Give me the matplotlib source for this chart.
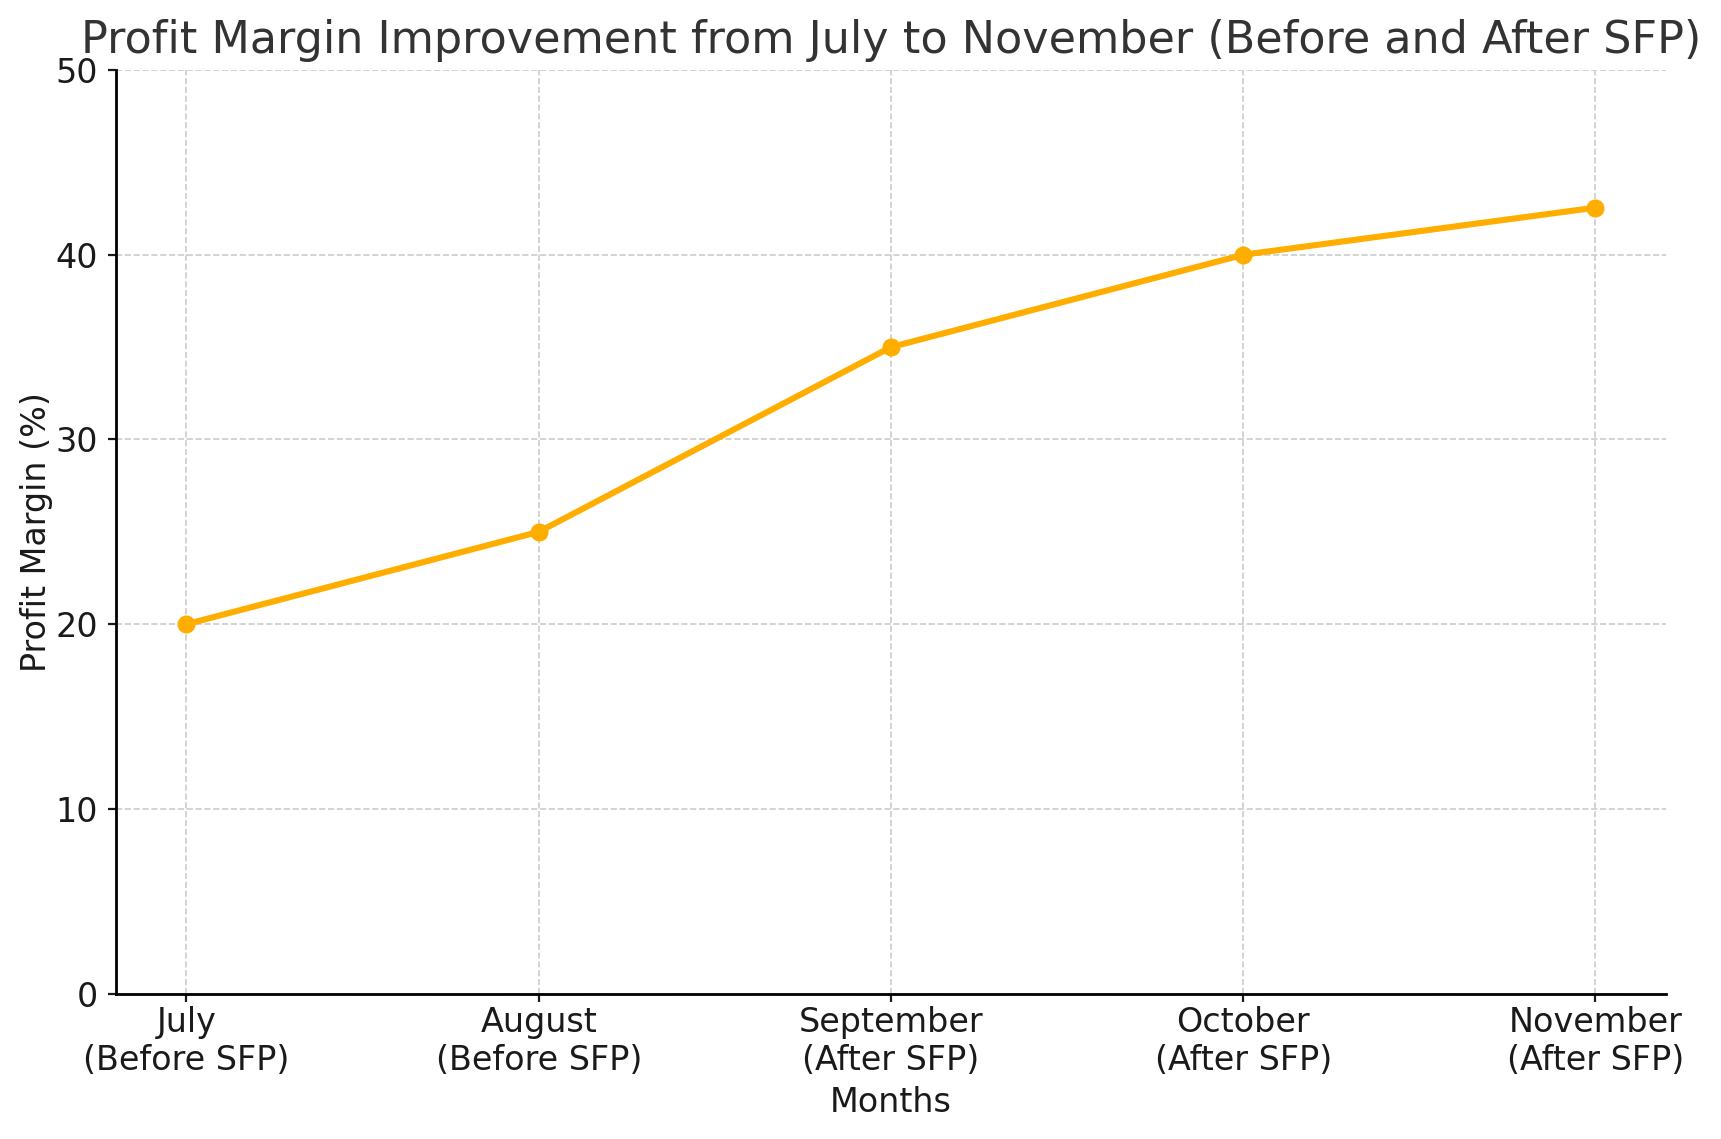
import matplotlib
matplotlib.use("Agg")
import matplotlib.pyplot as plt

# Data
months = ["July\n(Before SFP)", "August\n(Before SFP)", "September\n(After SFP)",
          "October\n(After SFP)", "November\n(After SFP)"]
profit_margin = [20, 25, 35, 40, 42.55]

fig = plt.figure(figsize=(8.605, 5.695), dpi=200)
ax = fig.add_axes([0.0674, 0.1276, 0.9006, 0.8109])

ax.plot(months, profit_margin, color="#FFAE00", linewidth=2.2, marker="o", markersize=5.5)

ax.set_title("Profit Margin Improvement from July to November (Before and After SFP)",
             fontsize=16, color="#333333", pad=6)
ax.set_ylim(0, 50)
ax.set_yticks([0, 10, 20, 30, 40, 50])
ax.tick_params(labelsize=12, colors="#1a1a1a", length=3)
ax.tick_params(axis="x", pad=1.5)
ax.set_xlabel("Months", fontsize=12, color="#1a1a1a", labelpad=3)
ax.set_ylabel("Profit Margin (%)", fontsize=12, color="#1a1a1a", labelpad=1)

ax.grid(True, linestyle="--", color="#cccccc", linewidth=0.6)
ax.spines["top"].set_visible(False)
ax.spines["right"].set_visible(False)
ax.spines["left"].set_linewidth(1.0)
ax.spines["bottom"].set_linewidth(1.0)

plt.savefig("out.png", dpi=200)
plt.close()
